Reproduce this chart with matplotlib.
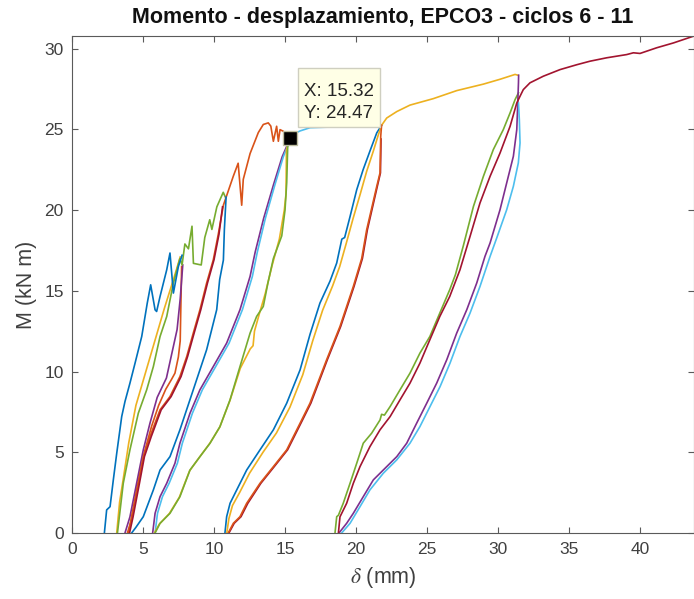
import matplotlib
matplotlib.use("Agg")
import matplotlib.pyplot as plt
from matplotlib.patches import Rectangle
from matplotlib.transforms import Affine2D, ScaledTranslation

plt.rcParams['font.family'] = ['Liberation Sans', 'DejaVu Sans']
plt.rcParams['mathtext.fontset'] = 'stix'

BLUE = '#0072BD'
ORANGE = '#D95319'
YELLOW = '#EDB120'
PURPLE = '#7E2F8E'
GREEN = '#77AC30'
LIGHTBLUE = '#4DBEEE'
DARKRED = '#A2142F'

# --- cycle 6: first branches (delta in mm, M in kN m) ---
blue1_x = [2.28, 2.44, 2.68, 2.91, 3.15, 3.50, 3.73, 4.08, 4.44, 4.91, 5.30, 5.54, 5.85, 5.96, 6.20, 6.67, 6.90, 7.14, 7.49, 7.75]
blue1_y = [0.0, 1.43, 1.63, 3.29, 4.94, 7.21, 8.14, 9.28, 10.52, 12.17, 14.24, 15.37, 13.82, 13.72, 14.65, 16.30, 17.34, 14.86, 16.50, 17.20]

yellow1_x = [3.15, 3.35, 3.60, 4.00, 4.50, 5.00, 5.50, 6.00, 6.50, 7.00, 7.35, 7.62]
yellow1_y = [0.0, 1.9, 3.3, 5.6, 7.9, 9.4, 10.9, 12.4, 13.9, 15.3, 16.3, 17.1]

green1_x = [3.20, 3.61, 4.08, 4.67, 5.26, 5.73, 6.20, 6.67, 7.14, 7.60, 7.75, 7.95, 8.20, 8.45, 8.55, 9.10, 9.35, 9.70, 9.85, 10.20, 10.65, 10.80]
green1_y = [0.0, 3.08, 5.15, 7.42, 8.87, 10.31, 12.17, 13.41, 15.48, 17.00, 16.60, 17.90, 17.60, 19.00, 16.70, 16.60, 18.30, 19.40, 18.80, 20.20, 21.10, 20.80]

purple1_x = [3.73, 4.08, 4.55, 5.02, 5.49, 6.00, 6.65, 7.00, 7.40, 7.62, 7.80]
purple1_y = [0.0, 1.00, 3.08, 5.15, 6.80, 8.40, 9.60, 11.00, 12.60, 14.50, 16.60]

red1_x = [3.90, 4.15, 4.60, 5.10, 5.60, 6.10, 6.60, 7.00, 7.25, 7.49, 7.62, 7.66, 7.72]
red1_y = [0.0, 0.70, 2.90, 5.00, 6.60, 7.90, 8.90, 9.50, 9.90, 10.90, 11.90, 13.80, 16.50]

# --- cycles 7-8 ---
orange2_x = [3.97, 4.20, 4.67, 5.02, 5.49, 6.20, 6.90, 7.60, 8.08, 8.54, 9.01, 9.48, 9.95, 10.30, 10.66,
             11.36, 11.70, 11.95, 12.06, 12.54, 13.12, 13.47, 13.82, 14.00, 14.18, 14.41, 14.53, 14.65, 14.88, 15.32]
orange2_y = [0.0, 1.00, 3.08, 4.73, 5.97, 7.63, 8.45, 9.69, 10.93, 12.38, 13.83, 15.48, 16.92, 18.50, 20.30,
             22.10, 22.90, 20.30, 21.90, 23.50, 24.80, 25.30, 25.40, 25.20, 24.26, 25.19, 24.26, 24.98, 24.88, 24.47]

darkred2_x = [4.05, 4.30, 4.75, 5.10, 5.58, 6.28, 6.98, 7.68, 8.14, 8.60, 9.07, 9.54, 10.00, 10.35, 10.60]
darkred2_y = [0.0, 1.00, 3.08, 4.73, 5.97, 7.63, 8.45, 9.69, 10.93, 12.38, 13.83, 15.48, 16.92, 18.50, 20.20]

blue2_x = [4.20, 4.50, 5.02, 5.73, 6.20, 6.90, 7.60, 8.54, 9.48, 10.19, 10.40, 10.66, 10.73, 10.85]
blue2_y = [0.0, 0.35, 1.01, 2.67, 3.90, 4.73, 6.39, 8.87, 11.35, 13.83, 15.70, 16.90, 18.80, 20.80]

purple2_x = [5.68, 5.85, 6.20, 6.67, 7.25, 7.60, 8.31, 9.01, 9.95, 10.89, 11.83, 12.54, 12.90, 13.50, 14.20, 14.80, 15.12, 15.32]
purple2_y = [0.0, 1.22, 2.25, 3.08, 4.32, 5.56, 7.42, 8.87, 10.31, 11.76, 13.83, 15.89, 17.40, 19.50, 21.60, 23.30, 23.95, 24.47]

lightblue2_x = [5.85, 6.02, 6.37, 6.84, 7.42, 7.77, 8.48, 9.18, 10.12, 11.06, 12.00, 12.70, 13.05, 13.62, 14.30, 14.88, 15.18, 15.32,
                15.70, 16.06, 16.76, 18.50, 20.50, 21.69]
lightblue2_y = [0.0, 1.22, 2.25, 3.08, 4.32, 5.56, 7.42, 8.87, 10.31, 11.76, 13.83, 15.89, 17.40, 19.50, 21.60, 23.30, 23.95, 24.47,
                24.75, 24.90, 25.10, 25.15, 25.20, 25.20]

yellow2_x = [5.80, 6.15, 6.85, 7.55, 8.28, 8.98, 9.70, 10.40, 11.12, 11.85, 12.55, 12.75, 12.85, 13.20, 13.60, 14.10, 14.60, 14.95, 15.07, 15.10, 15.32]
yellow2_y = [0.0, 0.55, 1.20, 2.20, 3.85, 4.70, 5.55, 6.55, 8.20, 10.20, 11.40, 11.60, 12.50, 13.60, 14.80, 16.60, 18.20, 20.00, 21.00, 23.70, 24.47]

green2_x = [5.85, 6.20, 6.90, 7.60, 8.31, 9.01, 9.72, 10.42, 11.13, 11.83, 12.54, 13.00, 13.47, 13.80, 14.18, 14.77, 15.00, 15.12, 15.19, 15.32]
green2_y = [0.0, 0.60, 1.22, 2.25, 3.90, 4.73, 5.56, 6.59, 8.25, 10.31, 12.38, 13.41, 14.03, 15.50, 17.00, 18.40, 20.00, 21.70, 23.95, 24.47]

# --- cycles 9-10 ---
blue3_x = [10.77, 10.89, 11.13, 11.60, 12.30, 13.24, 14.18, 15.12, 16.06, 16.76, 17.46, 18.17, 18.64, 19.00, 19.20, 19.58, 20.05, 20.50, 21.00, 21.46, 21.80]
blue3_y = [0.0, 1.01, 1.84, 2.67, 3.90, 5.15, 6.39, 8.04, 10.10, 12.30, 14.24, 15.60, 16.72, 18.20, 18.30, 19.60, 21.26, 22.50, 23.70, 24.78, 25.25]

yellow3_x = [10.90, 11.05, 11.30, 11.80, 12.50, 13.45, 14.40, 15.35, 16.25, 16.95, 17.65, 18.35, 18.85, 19.30, 19.80, 20.30, 20.75, 21.20, 21.55, 21.80,
             22.16, 22.87, 23.80, 25.44, 27.10, 28.97, 30.14, 31.20, 31.40]
yellow3_y = [0.0, 0.90, 1.70, 2.50, 3.70, 5.00, 6.20, 7.80, 9.80, 11.90, 13.80, 15.30, 16.50, 17.90, 19.50, 21.00, 22.40, 23.60, 24.60, 25.25,
             25.70, 26.10, 26.50, 26.90, 27.40, 27.80, 28.10, 28.40, 28.35]

orange3_x = [11.00, 11.36, 11.83, 12.30, 13.24, 14.18, 15.12, 16.06, 16.76, 17.93, 18.87, 19.81, 20.40, 20.75, 21.46, 21.69, 21.74, 21.80]
orange3_y = [0.0, 0.60, 1.01, 1.84, 3.08, 4.11, 5.15, 6.80, 8.04, 10.73, 12.79, 15.27, 17.00, 18.78, 21.47, 22.30, 24.57, 25.25]

darkred3_x = [11.05, 11.42, 11.90, 12.38, 13.30, 14.24, 15.18, 16.12, 16.82, 17.98, 18.92, 19.86, 20.45, 20.80, 21.50, 21.72, 21.76]
darkred3_y = [0.0, 0.60, 1.01, 1.84, 3.08, 4.11, 5.15, 6.80, 8.04, 10.73, 12.79, 15.27, 17.00, 18.78, 21.47, 22.30, 24.40]

# --- cycle 11 and final loading ---
green4_x = [18.52, 18.64, 18.76, 19.10, 19.58, 20.05, 20.51, 21.10, 21.69, 21.80, 22.00, 22.40, 23.10, 23.80, 24.50, 25.20, 25.90, 26.60,
            27.00, 27.56, 28.27, 28.97, 29.67, 30.37, 30.85, 31.20, 31.44]
green4_y = [0.0, 1.01, 1.10, 1.84, 3.08, 4.32, 5.56, 6.18, 7.00, 7.35, 7.30, 7.83, 8.87, 9.90, 11.14, 12.17, 13.62, 15.07,
            16.00, 17.80, 20.23, 22.09, 23.75, 24.98, 26.02, 26.84, 27.26]

purple4_x = [18.80, 19.34, 19.81, 20.51, 21.22, 22.16, 22.87, 23.57, 24.27, 24.98, 25.68, 26.39, 27.09, 27.80, 28.50, 29.08, 29.44,
             30.14, 30.61, 31.08, 31.32, 31.39, 31.44, 31.45]
purple4_y = [0.0, 0.60, 1.22, 2.25, 3.29, 4.11, 4.73, 5.56, 6.80, 8.04, 9.28, 10.73, 12.38, 13.83, 15.48, 17.13, 17.96,
             20.02, 21.68, 23.33, 24.98, 26.63, 27.90, 28.35]

lightblue4_x = [18.99, 19.58, 20.28, 20.98, 21.92, 22.87, 23.80, 24.50, 25.21, 25.92, 26.62, 27.32, 28.03, 28.73, 29.44, 29.92,
                30.61, 31.08, 31.43, 31.55, 31.50, 31.44]
lightblue4_y = [0.0, 0.60, 1.63, 2.67, 3.70, 4.53, 5.56, 6.59, 7.83, 9.07, 10.52, 12.17, 13.62, 15.27, 17.13, 18.30,
                20.02, 21.47, 22.92, 24.16, 25.60, 26.63]

darkred4_x = [18.76, 18.87, 19.34, 19.81, 20.28, 20.98, 21.69, 22.40, 23.10, 23.80, 24.50, 25.20, 25.90, 26.60, 27.32, 28.03,
              28.73, 29.44, 30.14, 30.85, 31.32, 31.55, 31.78, 32.25, 33.19, 34.37, 35.54, 36.48, 37.65, 39.06, 39.53,
              40.00, 41.17, 42.35, 43.80]
darkred4_y = [0.0, 1.00, 1.84, 3.08, 4.11, 5.35, 6.39, 7.21, 8.25, 9.28, 10.52, 11.97, 13.41, 14.65, 16.30, 18.37,
              20.44, 22.09, 23.53, 25.19, 26.63, 27.05, 27.46, 27.88, 28.29, 28.70, 29.00, 29.22, 29.43, 29.63, 29.74,
              29.70, 30.05, 30.35, 30.78]

# selected point (data tip)
tip_x = 15.32
tip_y = 24.47

x_ticks = [0, 5, 10, 15, 20, 25, 30, 35, 40]
y_ticks = [0, 5, 10, 15, 20, 25, 30]

curves = [
    (red1_x, red1_y, ORANGE),
    (purple1_x, purple1_y, PURPLE),
    (yellow1_x, yellow1_y, YELLOW),
    (green1_x, green1_y, GREEN),
    (blue1_x, blue1_y, BLUE),
    (orange2_x, orange2_y, ORANGE),
    (darkred2_x, darkred2_y, DARKRED),
    (blue2_x, blue2_y, BLUE),
    (purple2_x, purple2_y, PURPLE),
    (lightblue2_x, lightblue2_y, LIGHTBLUE),
    (yellow2_x, yellow2_y, YELLOW),
    (green2_x, green2_y, GREEN),
    (blue3_x, blue3_y, BLUE),
    (yellow3_x, yellow3_y, YELLOW),
    (darkred3_x, darkred3_y, DARKRED),
    (orange3_x, orange3_y, ORANGE),
    (green4_x, green4_y, GREEN),
    (purple4_x, purple4_y, PURPLE),
    (lightblue4_x, lightblue4_y, LIGHTBLUE),
    (darkred4_x, darkred4_y, DARKRED),
]

TEXT_COLOR = '#404040'
SPINE_COLOR = '#5a5a5a'

fig = plt.figure(figsize=(6.94, 5.99), dpi=100)
ax = fig.add_axes([72 / 694, 66 / 599, 622 / 694, 497 / 599])

for cx, cy, col in curves:
    ax.plot(cx, cy, color=col, lw=1.2, solid_joinstyle='round')

xmax = max(max(c[0]) for c in curves)
ymax = max(max(c[1]) for c in curves)
ax.set_xlim(0, xmax)
ax.set_ylim(0, ymax)
ax.set_xticks(x_ticks)
ax.set_yticks(y_ticks)
ax.tick_params(direction='in', top=True, right=True, length=4.3, width=0.8,
               color=SPINE_COLOR, labelcolor=TEXT_COLOR, labelsize=12.5)
ax.tick_params(axis='x', pad=6.5)
ax.tick_params(axis='y', pad=6)
for sp in ax.spines.values():
    sp.set_color(SPINE_COLOR)
    sp.set_linewidth(0.8)

ax.set_title('Momento - desplazamiento, EPCO3 - ciclos 6 - 11',
             fontsize=15.5, fontweight='bold', color='#111111', pad=9.5)
ax.set_xlabel(r'$\delta$ (mm)', fontsize=15.5, color=TEXT_COLOR, labelpad=6)
ax.set_ylabel('M (kN m)', fontsize=15.5, color=TEXT_COLOR, labelpad=5)

# data tip: marker, box (sized in pixels, anchored at the point) and label
ax.plot([tip_x], [tip_y], marker='s', ms=10, mfc='black', mec='#BDBDA0',
        mew=1.0, ls='none', zorder=6, clip_on=False)
tip_anchor = Affine2D() + ScaledTranslation(tip_x, tip_y, ax.transData)
ax.add_patch(Rectangle((8, 11), 82, 59, transform=tip_anchor, fc='#FFFFE6',
                       ec='#CFCFC0', lw=1.0, zorder=7, clip_on=False))
ax.annotate(f'X: {tip_x:.2f}\nY: {tip_y:.2f}', xy=(tip_x, tip_y),
            xytext=(14, 16), textcoords='offset pixels',
            ha='left', va='bottom', fontsize=13.5, color='#262626',
            linespacing=1.35, zorder=8)

fig.savefig('out.png', dpi=100)
